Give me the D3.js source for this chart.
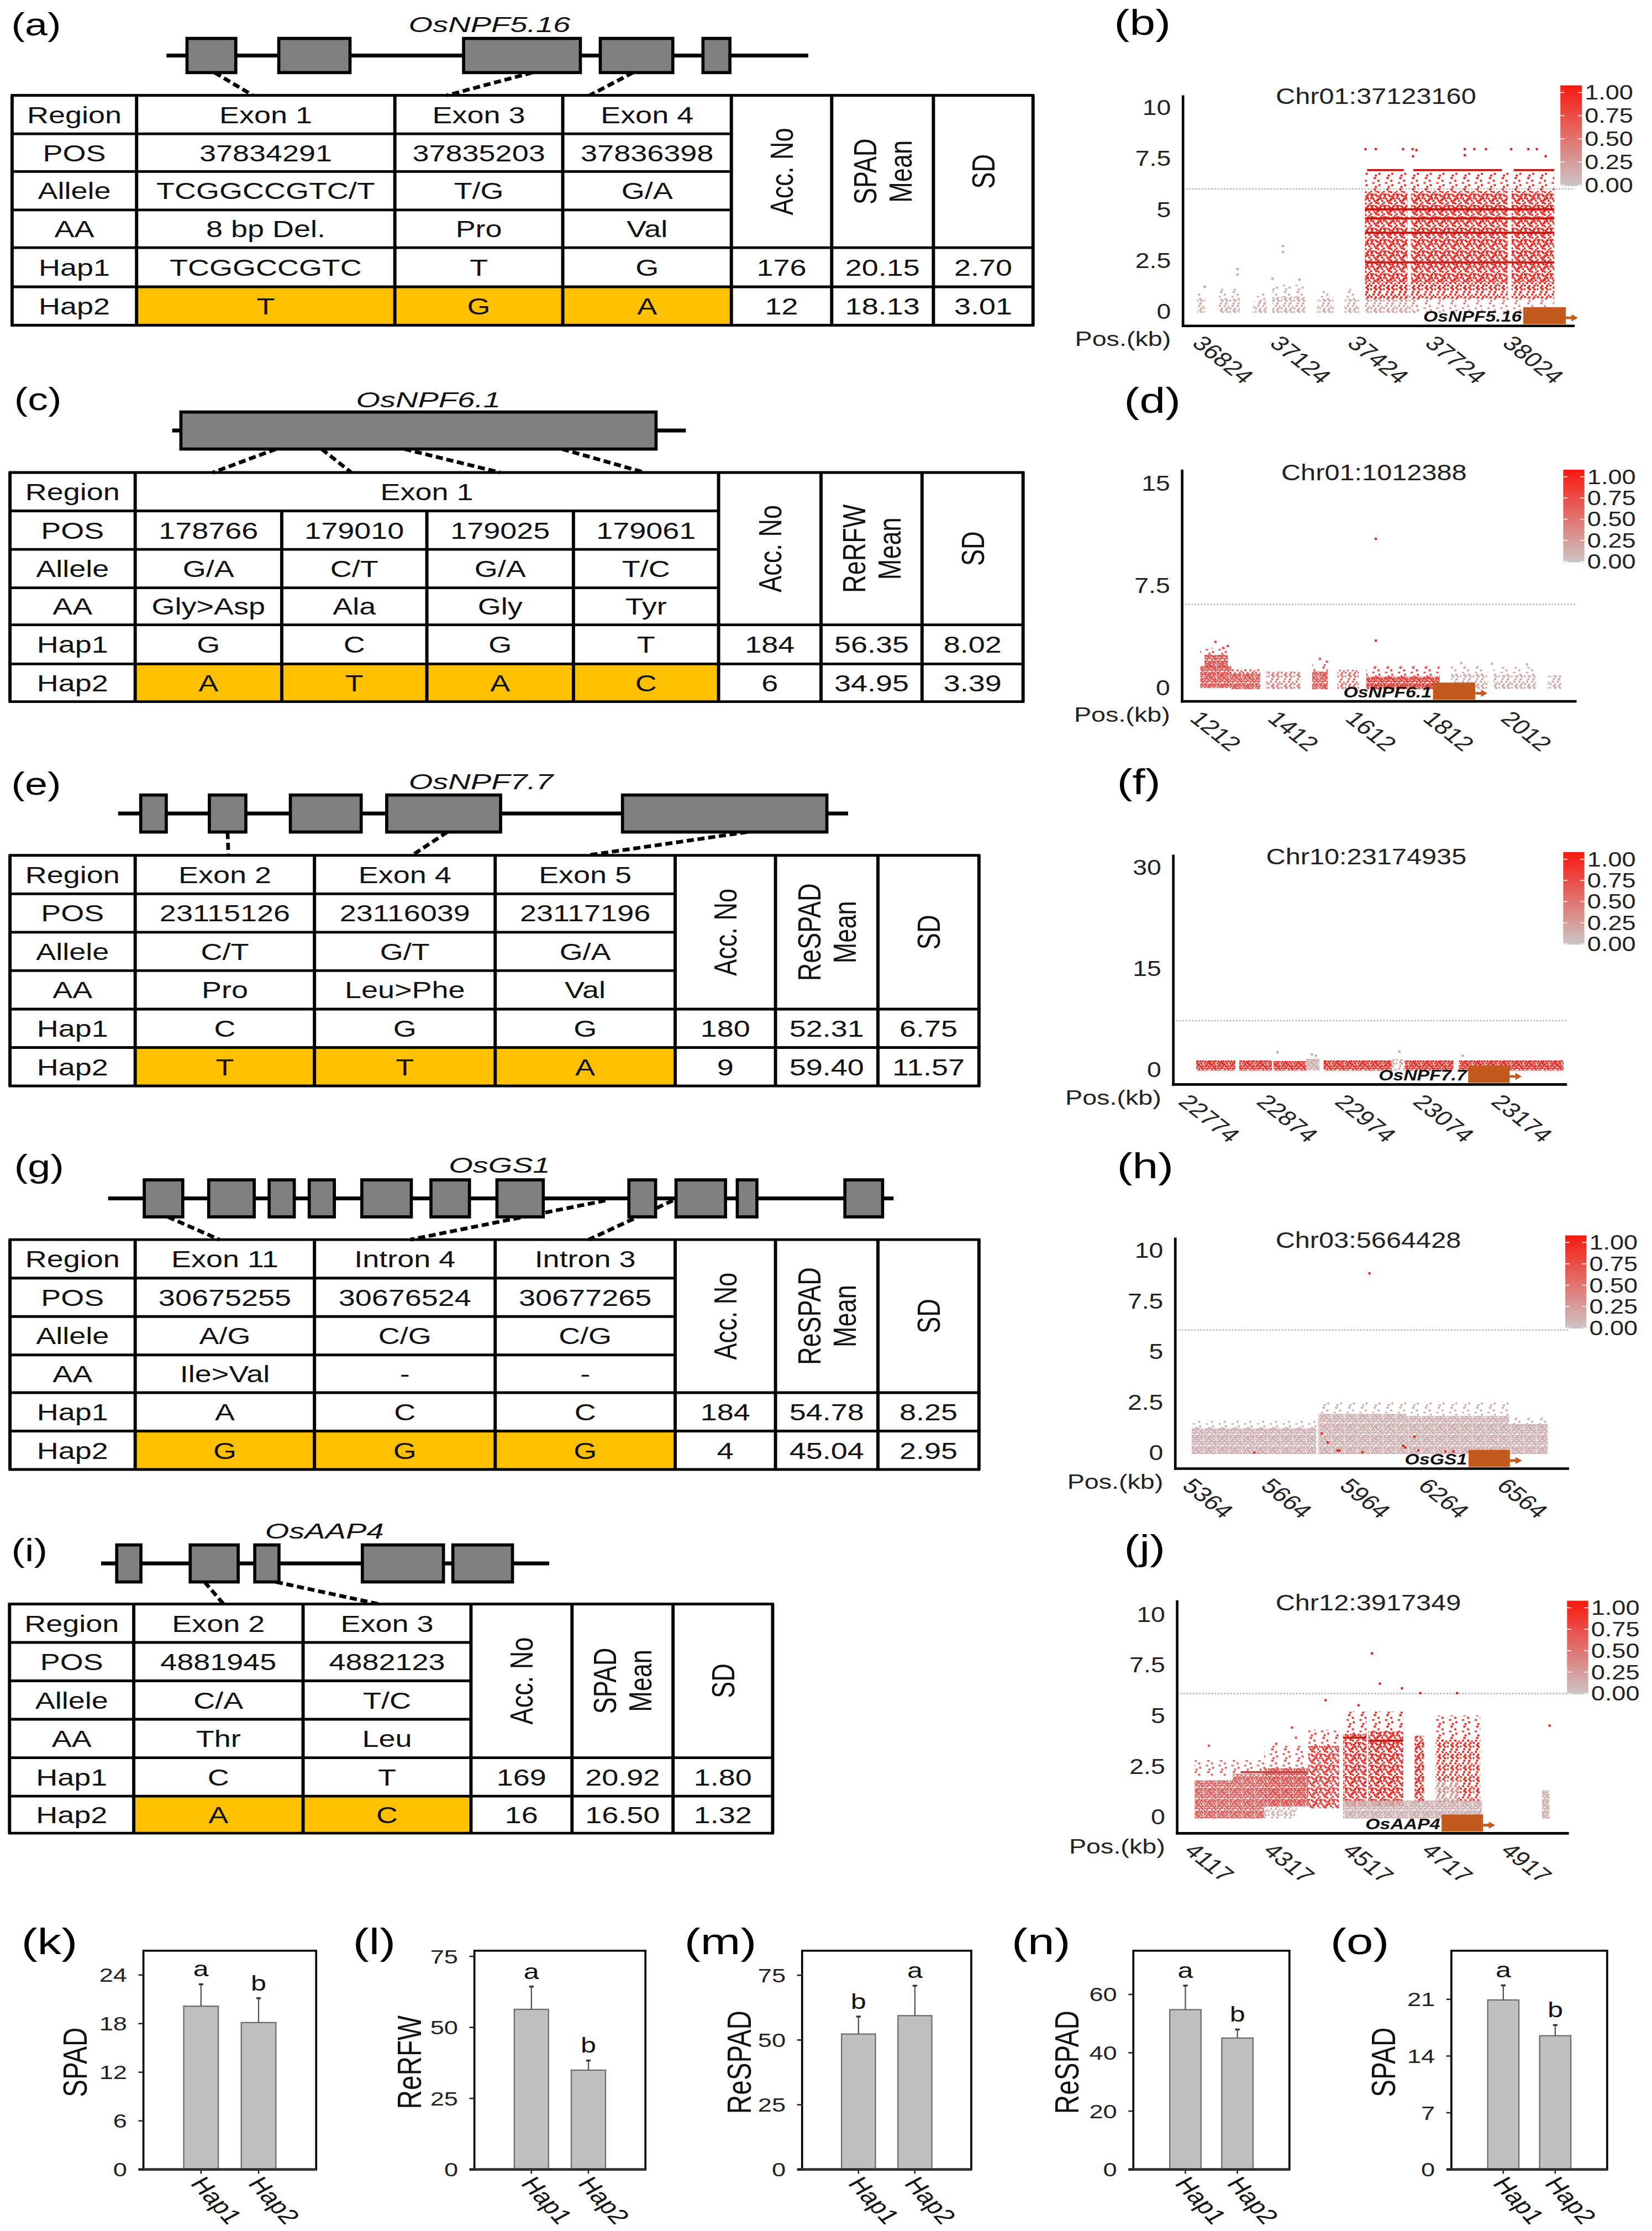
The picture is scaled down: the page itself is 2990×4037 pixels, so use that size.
<!DOCTYPE html>
<html><head><meta charset="utf-8">
<script src="https://cdn.jsdelivr.net/npm/d3@7"></script>
<style>html,body{margin:0;padding:0;background:#fff}svg{display:block}text{font-family:"Liberation Sans",Arial,Helvetica,sans-serif}</style>
</head><body><div id="chart"></div>
<script>
// ---------------- DATA ----------------
const rowLabels=["Region","POS","Allele","AA","Hap1","Hap2"];
const haps=["Hap1","Hap2"];
const genes=["OsNPF5.16","OsNPF6.1","OsNPF7.7","OsGS1","OsAAP4"];
const traits=["SPAD","ReRFW","ReSPAD","ReSPAD","SPAD"];
const snpRegions=[[["Exon 1",1],["Exon 3",1],["Exon 4",1]],[["Exon 1",4]],[["Exon 2",1],["Exon 4",1],["Exon 5",1]],[["Exon 11",1],["Intron 4",1],["Intron 3",1]],[["Exon 2",1],["Exon 3",1]]];
const snpPos=[["37834291","37835203","37836398"],["178766","179010","179025","179061"],["23115126","23116039","23117196"],["30675255","30676524","30677265"],["4881945","4882123"]];
const snpAllele=[["TCGGCCGTC/T","T/G","G/A"],["G/A","C/T","G/A","T/C"],["C/T","G/T","G/A"],["A/G","C/G","C/G"],["C/A","T/C"]];
const snpAA=[["8 bp Del.","Pro","Val"],["Gly>Asp","Ala","Gly","Tyr"],["Pro","Leu>Phe","Val"],["Ile>Val","-","-"],["Thr","Leu"]];
const hap1Alleles=[["TCGGCCGTC","T","G"],["G","C","G","T"],["C","G","G"],["A","C","C"],["C","T"]];
const hap2Alleles=[["T","G","A"],["A","T","A","C"],["T","T","A"],["G","G","G"],["A","C"]];
const accNo=[[176,12],[184,6],[180,9],[184,4],[169,16]];
const traitMean=[[20.15,18.13],[56.35,34.95],[52.31,59.40],[54.78,45.04],[20.92,16.50]];
const traitSD=[[2.70,3.01],[8.02,3.39],[6.75,11.57],[8.25,2.95],[1.80,1.32]];
const sigLetters=[["a","b"],["a","b"],["b","a"],["a","b"],["a","b"]];
// gene models, relative position along gene (0-1000)
const geneExons=[
 [[32,108],[175,286],[463,645],[676,789],[836,878]],
 [[17,942]],
 [[31,66],[125,175],[236,333],[368,524],[691,971]],
 [[46,95],[128,186],[205,237],[256,288],[323,386],[411,460],[495,554],[663,697],[723,786],[801,826],[938,986]],
 [[35,89],[199,306],[343,397],[583,764],[785,918]]];
// [gene position, from exon(e)/line(l), table SNP column, fraction across column]
const geneLinks=[
 [[75,"e",0,0.45],[570,"e",1,0.31],[727,"e",2,0.16]],
 [[202,"e",0,0.53],[291,"e",1,0.48],[452,"e",2,0.5],[759,"e",3,0.49]],
 [[150,"e",0,0.52],[451,"e",1,0.54],[862,"e",2,0.51]],
 [[76,"e",0,0.47],[633,"l",1,0.53],[719,"l",2,0.52]],
 [[231,"e",0,0.53],[390,"e",1,0.45]]];
// regional association plots
const leadSNP=["Chr01:37123160","Chr01:1012388","Chr10:23174935","Chr03:5664428","Chr12:3917349"];
const posTicks=[[36824,37124,37424,37724,38024],[1212,1412,1612,1812,2012],[22774,22874,22974,23074,23174],[5364,5664,5964,6264,6564],[4117,4317,4517,4717,4917]];
const logpTicks=[[0,2.5,5,7.5,10],[0,7.5,15],[0,15,30],[0,2.5,5,7.5,10],[0,2.5,5,7.5,10]];
const thresholds=[6,6.1,7.2,6.05,6.08];
const geneBoxKb=[[38090,38255],[1828,1937],[23140,23193],[6442,6600],[4758,4863]];
const ldTicks=[1,0.75,0.5,0.25,0];
// point clouds: [kbStart, kbEnd, -log10P low, high, LD r2, density 1=dense 2=medium 3=sparse 4=medium-dense]
const cloudB=[[36828,36859,0,0.6,.15,2],[36828,36859,0.6,1.0,.15,3],[36911,36993,0,0.6,.15,2],[36911,36993,0.6,1.1,.15,3],[37045,37098,0,0.5,.15,2],[37045,37098,0.5,0.9,.15,3],[37120,37247,0,0.7,.15,2],[37120,37247,0.7,1.3,.15,3],[37292,37359,0,0.6,.15,2],[37292,37359,0.6,1.0,.15,3],[37396,37456,0,0.6,.15,2],[37396,37456,0.6,1.1,.15,3],[37478,37665,0,1.3,.2,2],[37665,38210,0,0.7,.35,3],
 [37478,37642,0.7,1.5,.95,2],[37656,38030,0.7,1.5,.95,2],[38045,38210,0.7,1.5,.95,2],
 [37478,37642,1.5,5.9,.95,4],[37656,38030,1.5,5.9,.95,4],[38045,38210,1.5,5.9,.95,4],[37478,38210,6.0,6.8,.95,3]];
const cloudD=[[1229,1309,0.1,1.6,.7,1],[1240,1300,1.6,2.4,.7,1],[1229,1309,2.4,2.9,.7,3],[1309,1383,0,1.0,.65,1],[1309,1383,1.0,1.35,.65,2],[1398,1488,0,1.2,.4,2],[1517,1557,0,1.2,.65,1],[1517,1557,1.2,1.7,.65,3],[1582,1637,0,1.3,.5,2],[1656,1845,0,0.8,.85,1],[1656,1845,0.8,1.6,.8,3],[1875,1970,0,1.0,.15,2],[1875,1970,1.0,1.6,.15,3],[1984,2094,0,0.9,.15,2],[1984,2094,0.9,1.5,.15,3],[2123,2158,0,0.9,.15,2]];
const cloudF=[[22792,22842,0,1.3,.9,1],[22847,22889,0,1.3,.9,1],[22891,22933,0,1.2,.9,1],[22933,22950,0,1.6,.15,1],[22955,23042,0,1.3,.9,1],[23042,23059,0,1.5,.15,2],[23059,23121,0,1.3,.9,1],[23128,23262,0,1.3,.92,1]];
const cloudH=[[5386,5861,0,1.2,.12,1],[5386,5861,1.2,1.6,.12,3],[5868,6200,0,1.9,.12,1],[6200,6597,0,1.8,.12,1],[5868,6597,1.9,2.5,.12,3],[6597,6744,0,1.4,.12,1],[6597,6744,1.4,1.75,.12,3]];
const cloudJ=[[4134,4230,0,1.8,.58,1],[4230,4309,0,2.1,.58,1],[4134,4309,2.1,2.8,.58,3],[4309,4392,0,0.6,.12,2],[4309,4421,0.6,2.4,.68,1],[4309,4421,2.4,3.5,.68,3],[4421,4499,0.5,3.5,.8,4],[4421,4499,3.5,4.3,.8,3],[4509,4568,0.6,4.1,.9,4],[4509,4568,4.1,5.2,.9,3],[4573,4661,0.6,4.2,.95,4],[4573,4661,4.2,5.2,.95,3],[4690,4714,0.8,4.0,.9,4],[4743,4856,0.8,3.8,.9,2],[4743,4856,3.8,5.0,.9,3],[4509,4860,0,0.8,.12,1],[4743,4800,0.8,1.8,.15,2],[5012,5031,0,1.3,.12,1]];
// dense horizontal runs of SNPs: [kbStart, kbEnd, -log10P, LD]
const bandsB=[[37478,38210,5.0,1],[37478,38210,4.55,.95],[37478,38210,3.85,.95],[37478,38210,2.4,.9],[37486,37628,6.92,.95],[37665,38008,6.92,.95],[38053,38210,6.92,.95]];
const bandsD=[];
const bandsF=[];
const bandsH=[];
const bandsJ=[[4573,4661,3.75,.95],[4509,4568,3.9,.9],[4250,4420,2.2,.65]];
// isolated SNPs: [kb, -log10P, LD]
const pointsB=[[37480,7.95,.95],[37520,7.95,.95],[37625,7.95,.95],[37662,7.95,.95],[37677,7.9,.95],[37664,7.6,.95],[37864,7.95,.95],[37901,7.95,.95],[37946,7.95,.95],[37864,7.65,.95],[38043,7.95,.95],[38110,7.95,.95],[38143,7.95,.95],[38177,7.6,.95],[36985,2.07,.15],[36985,1.8,.15],[37160,3.2,.15],[37160,2.9,.15],[37120,1.6,.15],[37225,1.55,.15],[36858,1.2,.15]];
const pointsD=[[1681,10.9,.9],[1681,3.44,.9],[1268,3.35,.7],[1300,3.05,.7],[1288,2.9,.7],[1537,2.1,.6],[1555,1.9,.6],[1980,1.75,.1],[1901,1.8,.1],[2070,1.7,.1]];
const pointsF=[[22896,2.5,.15],[22940,2.2,.15],[23052,2.6,.15],[23133,2.0,.15],[22945,2.0,.15]];
const pointsH=[[5882,0.94,.9],[5905,0.49,.9],[5942,0.09,.9],[5950,0.1,.9],[6037,0.0,.9],[6192,0.33,.9],[6200,0.25,.9],[6236,0.78,.9],[6251,0.1,.9],[6354,0.05,.9],[6384,0.05,.9],[5625,0.0,.9],[6064,8.86,.9]];
const pointsJ=[[4582,8.06,.95],[4602,6.57,.95],[4658,6.34,.95],[4704,6.1,.95],[4797,6.1,.95],[5031,4.5,.9],[4465,5.75,.85],[4548,5.5,.9],[4170,3.5,.6],[4390,3.9,.7],[4380,4.4,.75],[4340,3.6,.7]];
const panelLetters=["(a)","(b)","(c)","(d)","(e)","(f)","(g)","(h)","(i)","(j)","(k)","(l)","(m)","(n)","(o)"];

// ---------------- LAYOUT ----------------
const W=2990,H=4037,K=2990/1161,VH=H/K;
const SX=1.27;
const labelPos=[[8,24.8,22],[783,24.5,25],[10,288,22],[790,290,25],[8,558.3,22],[785,558,25],[10,827,22],[785,828,25],[8,1097,22],[790,1096,25],[15,1373,26],[248,1373,26],[481,1373,26],[711,1373,26],[935,1373,26]];
const tableLay=[
 {cols:[8.5,96,277.5,395.5,514,584.5,656,726],rows:[67,94,120.5,147.5,174,201.5,228.5]},
 {cols:[7,95,198,300,403,505,577,648,719],rows:[332,359,386,413,439,466.5,493]},
 {cols:[7,95,221,348,474.5,545,617,688],rows:[601,628,655,682,709,736,763]},
 {cols:[7,95,221,348,474.5,545,617,688],rows:[871,898,925,952,978.5,1005.5,1032.5]},
 {cols:[6.7,94,213,331,402,473,543],rows:[1127,1154,1181,1208,1235,1262,1288]}];
const geneLay=[{x0:117,x1:568,y:39,h:12,tx:344,ty:17.2},{x0:121,x1:482,y:302.5,h:13,tx:301,ty:280.7},{x0:83,x1:596,y:571.6,h:13,tx:338,ty:549.2},{x0:76,x1:628,y:842,h:13,tx:351,ty:818.7},{x0:71,x1:386,y:1098.5,h:13,tx:228,ty:1075.7}];
const scLay=[
 {ax:831.4,top:67,bot:229,right:1106.7,tx:[840.5,1058.5],ty:[218.7,75.4],title:[967,67.4],leg:[1096.6,60,15.1,70.7]},
 {ax:830.8,top:330,bot:492.8,right:1108,tx:[838.9,1057.3],ty:[483.1,339.3],title:[965.6,332],leg:[1098.6,330,14.9,65.1]},
 {ax:824.6,top:600.5,bot:762,right:1101.3,tx:[830.8,1050.5],ty:[751.2,609.2],title:[960.2,601.8],leg:[1098.6,598.7,14.9,65]},
 {ax:826,top:869.6,bot:1031.9,right:1102.7,tx:[833.5,1054.5],ty:[1020.5,878.5],title:[961.6,871.3],leg:[1100,868,14.9,65.5]},
 {ax:827.3,top:1124.4,bot:1288.1,right:1102.6,tx:[834.9,1057.3],ty:[1276.5,1134.1],title:[961.6,1126.1],leg:[1101.3,1124.7,14.9,65.7]}];
const barLay=[
 {fx:[100.8,222.2],fy:[1370.6,1524.3],max:27,ticks:[0,6,12,18,24],lx:52.3},
 {fx:[333.4,453.6],fy:[1370.6,1524.3],max:77,ticks:[0,25,50,75],lx:287.4},
 {fx:[563.7,682.6],fy:[1370.6,1524.3],max:84.5,ticks:[0,25,50,75],lx:519},
 {fx:[796.5,906.2],fy:[1370.6,1524.3],max:75,ticks:[0,20,40,60],lx:749.3},
 {fx:[1020,1129.5],fy:[1370.6,1524.3],max:27,ticks:[0,7,14,21],lx:971.8}];

// ---------------- DRAW ----------------
const svg=d3.select("#chart").append("svg").attr("width",W).attr("height",H).attr("viewBox",`0 0 1161 ${VH}`);
svg.append("rect").attr("width",1161).attr("height",VH).attr("fill","#fff");
const defs=svg.append("defs");
const root=svg.append("g");

function txt(g,x,y,s,o={}){
  const t=g.append("text")
    .attr("transform",`translate(${x},${y}) scale(${o.sx??SX},1)${o.rot?` rotate(${o.rot})`:""}`)
    .attr("font-size",o.size??16.5)
    .attr("text-anchor",o.anchor??"middle")
    .attr("fill",o.fill??"#111");
  if(o.italic) t.attr("font-style","italic");
  if(o.bold) t.attr("font-weight","bold");
  const base=o.dy??0.36;
  if(Array.isArray(s)){
    const lh=o.lh??1.1;
    s.forEach((line,i)=>t.append("tspan").attr("x",0).attr("dy",(i===0?base-(s.length-1)*lh/2:lh)+"em").text(line));
  } else t.attr("dy",base+"em").text(s);
  return t;
}
const L=(g,x1,y1,x2,y2,w,c="#000")=>g.append("line").attr("x1",x1).attr("y1",y1).attr("x2",x2).attr("y2",y2).attr("stroke",c).attr("stroke-width",w);

panelLetters.forEach((p,i)=>{const [x,y,s]=labelPos[i];txt(root,x,y,p,{anchor:"start",dy:0,size:s,sx:1.3,fill:"#000"});});

function drawTable(i){
  const g=root.append("g");
  const {cols:c,rows:r}=tableLay[i];
  const n=snpPos[i].length;
  for(let j=0;j<n;j++) g.append("rect").attr("x",c[1+j]).attr("y",r[5]).attr("width",c[2+j]-c[1+j]).attr("height",r[6]-r[5]).attr("fill","#FFC000");
  rowLabels.forEach((lab,k)=>txt(g,(c[0]+c[1])/2,(r[k]+r[k+1])/2,lab));
  let ci=0; const edges=new Set([0]);
  snpRegions[i].forEach(([name,span])=>{txt(g,(c[1+ci]+c[1+ci+span])/2,(r[0]+r[1])/2,name);ci+=span;edges.add(ci);});
  [snpPos[i],snpAllele[i],snpAA[i],hap1Alleles[i],hap2Alleles[i]].forEach((arr,k)=>arr.forEach((v,j)=>txt(g,(c[1+j]+c[2+j])/2,(r[k+1]+r[k+2])/2,v)));
  const hx=m=>(c[1+n+m]+c[2+n+m])/2, hy=(r[0]+r[4])/2;
  txt(g,hx(0),hy,"Acc. No",{rot:-90,size:17.5});
  txt(g,hx(1),hy,[traits[i],"Mean"],{rot:-90,size:17.5,lh:1.12});
  txt(g,hx(2),hy,"SD",{rot:-90,size:17.5});
  [0,1].forEach(h=>{const y=(r[4+h]+r[5+h])/2;txt(g,hx(0),y,String(accNo[i][h]));txt(g,hx(1),y,traitMean[i][h].toFixed(2));txt(g,hx(2),y,traitSD[i][h].toFixed(2));});
  const xe=c[c.length-1], xs=c[1+n];
  [0,4,5,6].forEach(k=>L(g,c[0]-1,r[k],xe+1,r[k],1.9));
  [1,2,3].forEach(k=>L(g,c[0],r[k],xs,r[k],1.9));
  c.forEach((x,k)=>{let y0=r[0]; if(k>1&&k<1+n&&!edges.has(k-1)) y0=r[1]; L(g,x,y0,x,r[6],2.3);});

  const gl=geneLay[i], s=d3.scaleLinear().domain([0,1000]).range([gl.x0,gl.x1]);
  const gg=root.append("g");
  geneLinks[i].forEach(([p,from,col,f])=>{
    const x2=c[1+col]+f*(c[2+col]-c[1+col]);
    gg.append("line").attr("x1",s(p)).attr("y1",from==="e"?gl.y+gl.h:gl.y+1.5).attr("x2",x2).attr("y2",r[0])
      .attr("stroke","#000").attr("stroke-width",2.6).attr("stroke-dasharray","5,2.6");
  });
  L(gg,gl.x0,gl.y,gl.x1,gl.y,2.7);
  gg.selectAll("rect.ex").data(geneExons[i]).join("rect").attr("class","ex")
    .attr("x",d=>s(d[0])).attr("width",d=>s(d[1])-s(d[0])).attr("y",gl.y-gl.h).attr("height",2*gl.h)
    .attr("fill","#808080").attr("stroke","#000").attr("stroke-width",2.2);
  txt(gg,gl.tx,gl.ty,genes[i],{italic:true,size:15,sx:1.45});
}
for(let i=0;i<5;i++) drawTable(i);

const ldColor=d3.scaleLinear().domain([0,1]).range(["#c6bebe","#e0140e"]).interpolate(d3.interpolateRgb);
// stipple texture (visual texture only) for dense SNP clouds
const stip=[[0.5,0.6],[2.1,0.3],[3.9,0.9],[5.6,0.4],[7.4,0.8],[1.3,1.9],[3.0,2.2],[4.8,1.8],[6.5,2.1],[8.3,1.7],[0.4,3.2],[2.2,3.6],[4.0,3.3],[5.7,3.8],[7.5,3.4],[1.2,4.9],[3.1,5.1],[4.9,4.8],[6.6,5.3],[8.4,5.0],[0.6,6.5],[2.3,6.9],[4.1,6.4],[5.8,7.0],[7.6,6.6],[8.6,7.6]];
const stipSel={1:d3.range(26),2:[0,2,4,6,8,10,12,14,16,18,21,23,25],3:[1,8,12,16,23],4:[0,1,2,4,5,7,8,10,11,13,14,16,17,19,20,22,23,25]};
const patCache={};
function pat(col,den){
  const key="p"+col.replace(/[^0-9a-z]/gi,"")+"_"+den;
  if(!patCache[key]){
    const p=defs.append("pattern").attr("id",key).attr("patternUnits","userSpaceOnUse").attr("width",9).attr("height",8);
    stipSel[den].forEach((k,j)=>p.append("rect").attr("x",stip[k][0]-0.75).attr("y",stip[k][1]-0.7).attr("width",j%3===0?1.7:1.45).attr("height",1.4).attr("fill",col));
    patCache[key]=1;
  }
  return key;
}
const clouds=[cloudB,cloudD,cloudF,cloudH,cloudJ];
const bands=[bandsB,bandsD,bandsF,bandsH,bandsJ];
const points=[pointsB,pointsD,pointsF,pointsH,pointsJ];

const grad=defs.append("linearGradient").attr("id","ldgrad").attr("x1",0).attr("y1",0).attr("x2",0).attr("y2",1);
const legColor=d3.scaleLinear().domain([0,1]).range(["#cbc5c5","#f8190f"]);
d3.range(0,1.001,0.1).forEach(t=>grad.append("stop").attr("offset",t).attr("stop-color",legColor(1-t)));

function drawScatter(i){
  const lay=scLay[i], g=root.append("g");
  const pt=posTicks[i], yt=logpTicks[i];
  const x=d3.scaleLinear().domain([pt[0],pt[pt.length-1]]).range(lay.tx);
  const y=d3.scaleLinear().domain([0,yt[yt.length-1]]).range(lay.ty);
  const cid="clip"+i;
  defs.append("clipPath").attr("id",cid).append("rect").attr("x",lay.ax).attr("y",lay.top).attr("width",lay.right-lay.ax).attr("height",lay.bot-lay.top);
  const pg=g.append("g").attr("clip-path",`url(#${cid})`);
  pg.append("line").attr("x1",lay.ax).attr("x2",lay.right).attr("y1",y(thresholds[i])).attr("y2",y(thresholds[i]))
    .attr("stroke","#b5abab").attr("stroke-width",0.9).attr("stroke-dasharray","1.1,1.1");
  clouds[i].forEach(([a,b,lo,hi,ld,den])=>{
    pg.append("rect").attr("x",x(a)).attr("width",x(b)-x(a)).attr("y",y(hi)).attr("height",y(lo)-y(hi)+1.2).attr("fill",`url(#${pat(ldColor(ld),den)})`);
  });
  bands[i].forEach(([a,b,v,ld])=>pg.append("rect").attr("x",x(a)).attr("width",x(b)-x(a)).attr("y",y(v)-0.75).attr("height",1.5).attr("fill",d3.color(ldColor(ld)).darker(0.3)));
  pg.selectAll("rect.pt").data(points[i]).join("rect").attr("class","pt").attr("x",d=>x(d[0])-0.8).attr("y",d=>y(d[1])-0.8).attr("width",1.6).attr("height",1.6).attr("fill",d=>ldColor(d[2]));
  const [k0,k1]=geneBoxKb[i], gb=lay.bot-1.2, gt=gb-12;
  g.append("rect").attr("x",x(k0)).attr("y",gt).attr("width",x(k1)-x(k0)).attr("height",12).attr("fill","#c25a1e");
  const ar=x(k1), yc=gb-4.5;
  g.append("path").attr("d",`M${ar},${yc-0.9}h4v-1.6l4.5,2.5l-4.5,2.5v-1.6h-4z`).attr("fill","#c25a1e");
  txt(g,x(k0)-1,gb-5.5,genes[i],{anchor:"end",italic:true,bold:true,size:10.5,sx:1.25,fill:"#111"});
  L(g,lay.ax,lay.top,lay.ax,lay.bot+0.9,1.8);
  L(g,lay.ax-0.9,lay.bot,lay.right,lay.bot,1.8);
  yt.forEach(v=>txt(g,lay.ax-8.5,y(v),d3.format("~g")(v),{anchor:"end",size:15,sx:1.2,fill:"#222"}));
  pt.forEach(v=>txt(g,x(v)-3.5,lay.bot+13,String(v),{anchor:"start",dy:0,rot:45,size:14.5,sx:1.27,fill:"#222"}));
  txt(g,lay.ax-8.5,lay.bot+9,"Pos.(kb)",{anchor:"end",size:14.5,sx:1.25,fill:"#222"});
  txt(g,lay.title[0],lay.title[1],leadSNP[i],{size:15.5,sx:1.22,fill:"#222"});
  const [lx,ly,lw,lh]=lay.leg;
  g.append("rect").attr("x",lx).attr("y",ly).attr("width",lw).attr("height",lh).attr("fill","url(#ldgrad)");
  const ls=d3.scaleLinear().domain([1,0]).range([ly+5,ly+lh-0.5]);
  ldTicks.forEach(v=>{
    L(g,lx,ls(v),lx+3,ls(v),0.6,"#fff");L(g,lx+lw-3,ls(v),lx+lw,ls(v),0.6,"#fff");
    txt(g,lx+lw+2,ls(v),v.toFixed(2),{anchor:"start",size:14,sx:1.25,fill:"#222"});
  });
}
for(let i=0;i<5;i++) drawScatter(i);

function drawBar(i){
  const b=barLay[i], g=root.append("g");
  const w=b.fx[1]-b.fx[0];
  const y=d3.scaleLinear().domain([0,b.max]).range([b.fy[1],b.fy[0]]);
  const x=d3.scalePoint().domain(haps).range([b.fx[0]+w/3,b.fx[0]+2*w/3]);
  const bw=w*0.2;
  haps.forEach((h,j)=>{
    const m=traitMean[i][j], sd=traitSD[i][j], cx=x(h);
    g.append("rect").attr("x",cx-bw/2).attr("y",y(m)).attr("width",bw).attr("height",y(0)-y(m)).attr("fill","#c0c0c0").attr("stroke","#6e6e6e").attr("stroke-width",0.9);
    L(g,cx,y(m),cx,y(m+sd),0.9,"#555");
    L(g,cx-1.6,y(m+sd),cx+1.6,y(m+sd),1.3,"#333");
    txt(g,cx,y(m+sd)-5.5,sigLetters[i][j],{dy:0,size:15,sx:1.3,fill:"#111"});
    L(g,cx,b.fy[1],cx,b.fy[1]+3,1,"#222");
    txt(g,cx-8,b.fy[1]+10,h,{anchor:"start",dy:0,rot:55,size:15,sx:1.3,fill:"#111"});
  });
  g.append("rect").attr("x",b.fx[0]).attr("y",b.fy[0]).attr("width",w).attr("height",b.fy[1]-b.fy[0]).attr("fill","none").attr("stroke","#000").attr("stroke-width",1.4);
  L(g,b.fx[0]-3.5,b.fy[1],b.fx[1],b.fy[1],1.8,"#333");
  b.ticks.forEach(v=>{L(g,b.fx[0]-3.5,y(v),b.fx[0],y(v),1,"#222");txt(g,b.fx[0]-11.5,y(v),String(v),{anchor:"end",size:13.5,sx:1.3,fill:"#222"});});
  txt(g,b.lx,1449,traits[i],{rot:-90,size:18.5,sx:1.3,fill:"#111"});
}
for(let i=0;i<5;i++) drawBar(i);
</script></body></html>
